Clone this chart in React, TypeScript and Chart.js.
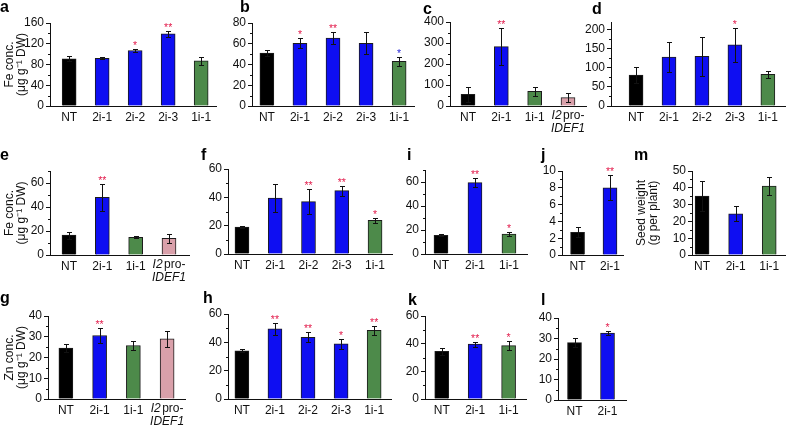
import React, { useEffect, useRef } from 'react';
import { Chart, registerables } from 'chart.js';

Chart.register(...registerables);

const FONT = '"Liberation Sans", Arial, Helvetica, sans-serif';
const INK = '#111111';
const STAR_RED = '#e3204f';
const STAR_BLUE = '#2b2bd6';
const PRO_LABEL = 'I2pro-IDEF1';

// ---------- data ----------
const aCats = ['NT', '2i-1', '2i-2', '2i-3', '1i-1'];
const aValues = [91, 92, 107, 139, 87];
const aErrors = [5, 2, 3, 6, 8];
const aMarks = ['', '', '*', '**', ''];
const aTicks = [0, 40, 80, 120, 160];

const bCats = ['NT', '2i-1', '2i-2', '2i-3', '1i-1'];
const bValues = [51, 60.5, 65.5, 60.5, 43];
const bErrors = [3, 5, 5.5, 10.5, 4.5];
const bMarks = ['', '*', '**', '', '*'];
const bMarkColors = [STAR_RED, STAR_RED, STAR_RED, STAR_RED, STAR_BLUE];
const bTicks = [0, 20, 40, 60, 80];

const cCats = ['NT', '2i-1', '1i-1', PRO_LABEL];
const cValues = [55, 283, 70, 40];
const cErrors = [36, 87, 21, 23];
const cMarks = ['', '**', '', ''];
const cTicks = [0, 100, 200, 300, 400];

const dCats = ['NT', '2i-1', '2i-2', '2i-3', '1i-1'];
const dValues = [81, 128, 130, 160, 83];
const dErrors = [22, 39, 52, 44, 9];
const dMarks = ['', '', '', '*', ''];
const dTicks = [0, 50, 100, 150, 200];

const eCats = ['NT', '2i-1', '1i-1', PRO_LABEL];
const eValues = [16.5, 48, 14.8, 13.8];
const eErrors = [3, 11, 1, 3.6];
const eMarks = ['', '**', '', ''];
const eTicks = [0, 20, 40, 60];

const fCats = ['NT', '2i-1', '2i-2', '2i-3', '1i-1'];
const fValues = [19, 39.5, 37, 44.7, 23.7];
const fErrors = [0.5, 10, 8.8, 3.5, 1.7];
const fMarks = ['', '', '**', '**', '*'];
const fTicks = [0, 20, 40, 60];

const iCats = ['NT', '2i-1', '1i-1'];
const iValues = [15.6, 59.5, 16.7];
const iErrors = [1, 3.6, 1.3];
const iMarks = ['', '**', '*'];
const iTicks = [0, 20, 40, 60];

const jCats = ['NT', '2i-1'];
const jValues = [2.7, 8];
const jErrors = [0.6, 1.5];
const jMarks = ['', '**'];
const jTicks = [0, 2, 4, 6, 8, 10];

const mCats = ['NT', '2i-1', '1i-1'];
const mValues = [35, 24.5, 41];
const mErrors = [9, 4.4, 5.5];
const mMarks = ['', '', ''];
const mTicks = [0, 10, 20, 30, 40, 50];

const gCats = ['NT', '2i-1', '1i-1', PRO_LABEL];
const gValues = [24.5, 30.6, 25.8, 29];
const gErrors = [2, 3.8, 2.2, 3.8];
const gMarks = ['', '**', '', ''];
const gTicks = [0, 10, 20, 30, 40];

const hCats = ['NT', '2i-1', '2i-2', '2i-3', '1i-1'];
const hValues = [34, 49.5, 43.5, 39, 48.5];
const hErrors = [1, 4, 3.5, 3.5, 3];
const hMarks = ['', '**', '**', '*', '**'];
const hTicks = [0, 20, 40, 60];

const kCats = ['NT', '2i-1', '1i-1'];
const kValues = [34.5, 39.7, 38.6];
const kErrors = [2.5, 1.8, 3.5];
const kMarks = ['', '**', '*'];
const kTicks = [0, 20, 40, 60];

const lCats = ['NT', '2i-1'];
const lValues = [28, 32.7];
const lErrors = [2.3, 1];
const lMarks = ['', '*'];
const lTicks = [0, 10, 20, 30, 40];

const feTitle = ['Fe conc.', '(\u03BCg g\u207B\u00B9 DW)'];
const znTitle = ['Zn conc.', '(\u03BCg g\u207B\u00B9 DW)'];
const seedTitle = ['Seed weight', '(g per plant)'];

// ---------- styling ----------
function barColor(cat: string): string {
  if (cat === 'NT') return '#000000';
  if (cat.startsWith('2i')) return '#0e0ef2';
  if (cat.startsWith('1i')) return '#4d8a4a';
  return '#d9a0aa';
}

type Frame = {
  canvasLeft: number; axisX: number; right: number;
  top: number; bottom: number; xMin: number; xMax: number;
};

type PanelSpec = {
  letter: string; letterX: number; letterY: number;
  cats: string[]; values: number[]; errors: number[];
  marks: string[]; markColors?: string[];
  ticks: number[]; yMax: number; title?: string[];
  frame: Frame;
};

const panels: PanelSpec[] = [
  { letter: 'a', letterX: 0, letterY: 12, cats: aCats, values: aValues, errors: aErrors, marks: aMarks, ticks: aTicks, yMax: 160, title: feTitle,
    frame: { canvasLeft: 0, axisX: 50, right: 217, top: 23, bottom: 106, xMin: -0.58, xMax: 4.48 } },
  { letter: 'b', letterX: 240, letterY: 12, cats: bCats, values: bValues, errors: bErrors, marks: bMarks, markColors: bMarkColors, ticks: bTicks, yMax: 80,
    frame: { canvasLeft: 222, axisX: 252, right: 415, top: 23, bottom: 106, xMin: -0.45, xMax: 4.48 } },
  { letter: 'c', letterX: 423, letterY: 14, cats: cCats, values: cValues, errors: cErrors, marks: cMarks, ticks: cTicks, yMax: 400,
    frame: { canvasLeft: 420, axisX: 450, right: 587, top: 22, bottom: 106, xMin: -0.54, xMax: 3.57 } },
  { letter: 'd', letterX: 592, letterY: 14, cats: dCats, values: dValues, errors: dErrors, marks: dMarks, ticks: dTicks, yMax: 220,
    frame: { canvasLeft: 580, axisX: 611, right: 786, top: 22, bottom: 106, xMin: -0.76, xMax: 4.55 } },
  { letter: 'e', letterX: 0, letterY: 160, cats: eCats, values: eValues, errors: eErrors, marks: eMarks, ticks: eTicks, yMax: 70, title: feTitle,
    frame: { canvasLeft: 0, axisX: 50, right: 190, top: 171, bottom: 255, xMin: -0.57, xMax: 3.63 } },
  { letter: 'f', letterX: 201, letterY: 160, cats: fCats, values: fValues, errors: fErrors, marks: fMarks, ticks: fTicks, yMax: 60,
    frame: { canvasLeft: 200, axisX: 228, right: 393, top: 169, bottom: 254, xMin: -0.42, xMax: 4.54 } },
  { letter: 'i', letterX: 407, letterY: 160, cats: iCats, values: iValues, errors: iErrors, marks: iMarks, ticks: iTicks, yMax: 70,
    frame: { canvasLeft: 400, axisX: 425, right: 528, top: 170, bottom: 254, xMin: -0.47, xMax: 2.56 } },
  { letter: 'j', letterX: 541, letterY: 160, cats: jCats, values: jValues, errors: jErrors, marks: jMarks, ticks: jTicks, yMax: 10,
    frame: { canvasLeft: 536, axisX: 562, right: 624, top: 171, bottom: 255, xMin: -0.48, xMax: 1.42 } },
  { letter: 'm', letterX: 634, letterY: 160, cats: mCats, values: mValues, errors: mErrors, marks: mMarks, ticks: mTicks, yMax: 50, title: seedTitle,
    frame: { canvasLeft: 632, axisX: 692, right: 786, top: 171, bottom: 255, xMin: -0.3, xMax: 2.5 } },
  { letter: 'g', letterX: 0, letterY: 303, cats: gCats, values: gValues, errors: gErrors, marks: gMarks, ticks: gTicks, yMax: 40, title: znTitle,
    frame: { canvasLeft: 0, axisX: 48, right: 186, top: 316, bottom: 399, xMin: -0.53, xMax: 3.56 } },
  { letter: 'h', letterX: 203, letterY: 303, cats: hCats, values: hValues, errors: hErrors, marks: hMarks, ticks: hTicks, yMax: 60,
    frame: { canvasLeft: 200, axisX: 228, right: 392, top: 314, bottom: 399, xMin: -0.42, xMax: 4.54 } },
  { letter: 'k', letterX: 408, letterY: 305, cats: kCats, values: kValues, errors: kErrors, marks: kMarks, ticks: kTicks, yMax: 60,
    frame: { canvasLeft: 400, axisX: 425, right: 527, top: 316, bottom: 399, xMin: -0.5, xMax: 2.55 } },
  { letter: 'l', letterX: 541, letterY: 305, cats: lCats, values: lValues, errors: lErrors, marks: lMarks, ticks: lTicks, yMax: 40,
    frame: { canvasLeft: 536, axisX: 558, right: 627, top: 318, bottom: 400, xMin: -0.5, xMax: 1.59 } },
];

const PT = 16;
const XH = 32;
const TICK_FONT = 12;

function Panel({ spec }: { spec: PanelSpec }) {
  const ref = useRef<HTMLCanvasElement>(null);
  const { frame } = spec;
  const width = frame.right - frame.canvasLeft;
  const height = frame.bottom - frame.top + PT + XH;

  useEffect(() => {
    const canvas = ref.current;
    if (!canvas) return;
    const yWidth = frame.axisX - frame.canvasLeft;

    const decor = {
      id: 'decor',
      afterDatasetsDraw(chart: any) {
        const ctx = chart.ctx as CanvasRenderingContext2D;
        const ys = chart.scales.y;
        const xs = chart.scales.x;
        const area = chart.chartArea;
        const meta = chart.getDatasetMeta(0);
        ctx.save();
        ctx.strokeStyle = INK;
        ctx.lineWidth = 1;
        meta.data.forEach((bar: any, i: number) => {
          const v = spec.values[i];
          const e = spec.errors[i];
          const x = Math.round(bar.x) + 0.5;
          const yt = Math.round(ys.getPixelForValue(v + e)) + 0.5;
          const yb = Math.round(ys.getPixelForValue(v - e)) + 0.5;
          ctx.beginPath();
          ctx.moveTo(x, yb); ctx.lineTo(x, yt);
          ctx.moveTo(x - 2.5, yt); ctx.lineTo(x + 2.5, yt);
          ctx.moveTo(x - 2.5, yb); ctx.lineTo(x + 2.5, yb);
          ctx.stroke();
          const mark = spec.marks[i];
          if (mark) {
            ctx.fillStyle = spec.markColors ? spec.markColors[i] : STAR_RED;
            ctx.font = `10.5px ${FONT}`;
            ctx.textAlign = 'center';
            ctx.textBaseline = 'alphabetic';
            ctx.fillText(mark, bar.x, yt - 0.5);
          }
        });
        const ax = Math.round(area.left) + 0.5;
        const t = spec.ticks;
        const minors: number[] = [];
        for (let k = 0; k < t.length - 1; k++) minors.push((t[k] + t[k + 1]) / 2);
        const lastMinor = t[t.length - 1] + (t[1] - t[0]) / 2;
        if (lastMinor <= spec.yMax + 1e-9) minors.push(lastMinor);
        ctx.beginPath();
        minors.forEach((m) => {
          const py = Math.round(ys.getPixelForValue(m)) + 0.5;
          ctx.moveTo(ax - 2.5, py); ctx.lineTo(ax, py);
        });
        ctx.stroke();
        spec.cats.forEach((cat, i) => {
          if (cat !== PRO_LABEL) return;
          const cx = xs.getPixelForValue(i);
          const y0 = area.bottom + 4;
          ctx.fillStyle = INK;
          ctx.textBaseline = 'top';
          ctx.textAlign = 'left';
          const itFont = `italic ${TICK_FONT}px ${FONT}`;
          const nFont = `${TICK_FONT}px ${FONT}`;
          ctx.font = itFont;
          const w1 = ctx.measureText('I2').width + 1.5;
          ctx.font = nFont;
          const w2 = ctx.measureText('pro-').width;
          const sx = cx - (w1 + w2) / 2;
          ctx.font = itFont;
          ctx.fillText('I2', sx, y0);
          ctx.font = nFont;
          ctx.fillText('pro-', sx + w1, y0);
          ctx.font = itFont;
          ctx.textAlign = 'center';
          ctx.fillText('IDEF1', cx, y0 + 13);
        });
        ctx.restore();
      },
    };

    const chart = new Chart(canvas, {
      type: 'bar',
      data: {
        datasets: [
          {
            data: spec.values.map((v, i) => ({ x: i, y: v })),
            backgroundColor: spec.cats.map(barColor),
            borderColor: '#1c1c1c',
            borderWidth: 1,
            barThickness: 14,
          } as any,
        ],
      },
      options: {
        animation: false,
        responsive: false,
        maintainAspectRatio: false,
        events: [],
        layout: { padding: { left: 0, right: 0, top: PT, bottom: 0 } },
        plugins: {
          legend: { display: false },
          tooltip: { enabled: false },
          title: { display: false },
        },
        scales: {
          x: {
            type: 'linear',
            min: frame.xMin,
            max: frame.xMax,
            offset: false,
            grid: { display: false, drawTicks: false },
            border: { display: true, color: INK, width: 1 },
            afterBuildTicks: (s: any) => {
              s.ticks = spec.cats.map((_c, i) => ({ value: i }));
            },
            afterFit: (s: any) => {
              s.height = XH;
            },
            ticks: {
              autoSkip: false,
              maxRotation: 0,
              minRotation: 0,
              padding: 4,
              color: INK,
              font: { family: FONT, size: TICK_FONT },
              callback: (_v: any, i: number) => (spec.cats[i] === PRO_LABEL ? '' : spec.cats[i]),
            },
          },
          y: {
            type: 'linear',
            min: 0,
            max: spec.yMax,
            grid: { display: true, drawOnChartArea: false, drawTicks: true, tickLength: 4, color: INK },
            border: { display: true, color: INK, width: 1 },
            afterBuildTicks: (s: any) => {
              s.ticks = spec.ticks.map((v) => ({ value: v }));
            },
            afterFit: (s: any) => {
              s.width = yWidth;
            },
            ticks: {
              autoSkip: false,
              padding: 2,
              color: INK,
              font: { family: FONT, size: TICK_FONT },
            },
            title: spec.title
              ? {
                  display: true,
                  text: spec.title,
                  color: INK,
                  font: { family: FONT, size: 12, lineHeight: 1.0 },
                  padding: { top: 4, bottom: 0 },
                }
              : { display: false },
          },
        },
      } as any,
      plugins: [decor],
    });
    return () => chart.destroy();
  }, []);

  return (
    <canvas
      ref={ref}
      width={width}
      height={height}
      style={{
        position: 'absolute',
        left: frame.canvasLeft,
        top: frame.top - PT,
        width,
        height,
      }}
    />
  );
}

export default function App() {
  return (
    <div
      style={{
        position: 'absolute',
        left: 0,
        top: 0,
        width: 788,
        height: 430,
        overflow: 'hidden',
        background: '#ffffff',
      }}
    >
      {panels.map((p) => (
        <Panel key={p.letter} spec={p} />
      ))}
      {panels.map((p) => (
        <div
          key={'L' + p.letter}
          style={{
            position: 'absolute',
            left: p.letterX,
            top: p.letterY - 13.5,
            fontFamily: FONT,
            fontWeight: 'bold',
            fontSize: 16,
            lineHeight: '16px',
            color: '#000',
          }}
        >
          {p.letter}
        </div>
      ))}
    </div>
  );
}
